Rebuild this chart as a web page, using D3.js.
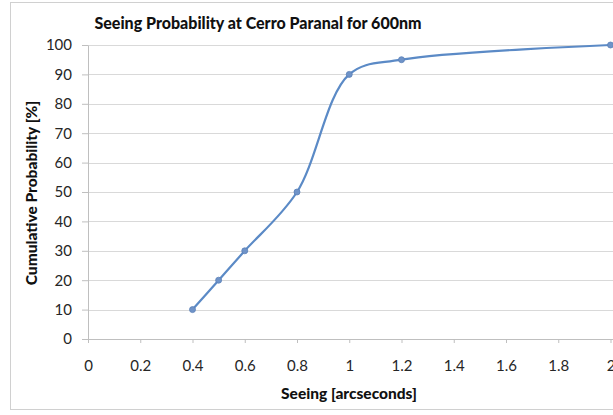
<!DOCTYPE html>
<html>
<head>
<meta charset="utf-8">
<script src="https://cdn.jsdelivr.net/npm/d3@7"></script>
<style>
  body { margin: 0; background: #fff; }
  text { font-family: Lato, "Open Sans", sans-serif; }
</style>
</head>
<body>
<div id="chart"></div>
<script>
var seeing = [0.4, 0.5, 0.6, 0.8, 1.0, 1.2, 2.0];
var probability = [10, 20, 30, 50, 90, 95, 100];
var xTicks = [0, 0.2, 0.4, 0.6, 0.8, 1, 1.2, 1.4, 1.6, 1.8, 2];
var yTicks = [0, 10, 20, 30, 40, 50, 60, 70, 80, 90, 100];

var margin = {top: 45, right: 3, bottom: 76, left: 88},
    width = 613 - margin.left - margin.right,
    height = 415 - margin.top - margin.bottom;

var root = d3.select("#chart")
  .append("svg")
    .attr("width", 613)
    .attr("height", 415);

// outer chart frame
root.append("rect")
  .attr("x", 10.5).attr("y", 2.5)
  .attr("width", 640).attr("height", 407)
  .attr("fill", "none")
  .attr("stroke", "#d0d0d0");

var svg = root.append("g")
  .attr("transform", "translate(" + margin.left + "," + margin.top + ")");

var x = d3.scaleLinear()
  .domain([0, 2])
  .range([0, 522.5]);

var y = d3.scaleLinear()
  .domain([0, 100])
  .range([294, 0]);

// gridlines
svg.append("g")
  .selectAll("line")
  .data(yTicks.slice(1))
  .enter()
  .append("line")
    .attr("x1", 0)
    .attr("x2", width + 10)
    .attr("y1", function (d) { return Math.round(y(d)) + 0.5; })
    .attr("y2", function (d) { return Math.round(y(d)) + 0.5; })
    .attr("stroke", "#d9d9d9");

var xAxis = svg.append("g")
  .attr("transform", "translate(0," + y(0) + ")")
  .call(d3.axisBottom(x).tickValues(xTicks).tickSize(4).tickPadding(17)
    .tickFormat(function (d) { return d3.format("")(+d.toFixed(1)); }));
xAxis.select(".domain").attr("stroke", "#bfbfbf").attr("d", "M0.5,0.5H" + (width + 10));

var yAxis = svg.append("g")
  .call(d3.axisLeft(y).tickValues(yTicks).tickSize(6).tickPadding(10));
yAxis.select(".domain").attr("stroke", "#bfbfbf").attr("d", "M0.5,0.5V" + y(0));

svg.selectAll(".tick line").attr("stroke", "#bfbfbf");
svg.selectAll(".tick text")
  .attr("fill", "#262626")
  .style("font-size", "15px")
  .style("font-family", "Lato, sans-serif");

var points = seeing.map(function (d, i) { return [d, probability[i]]; });

var line = d3.line()
  .x(function (d) { return x(d[0]); })
  .y(function (d) { return y(d[1]); })
  .curve(d3.curveCatmullRom.alpha(0.5));

svg.append("path")
  .datum(points)
  .attr("fill", "none")
  .attr("stroke", "#5b8ac6")
  .attr("stroke-width", 2.2)
  .attr("d", line);

svg.append("g")
  .selectAll("circle")
  .data(points)
  .enter()
  .append("circle")
    .attr("cx", function (d) { return x(d[0]); })
    .attr("cy", function (d) { return y(d[1]); })
    .attr("r", 3)
    .attr("fill", "#6f93c8")
    .attr("stroke", "#5b80b8")
    .attr("stroke-width", 0.8);

// titles
root.append("text")
  .attr("x", 258).attr("y", 29)
  .attr("text-anchor", "middle")
  .style("font-size", "16px")
  .style("font-weight", "900")
  .attr("fill", "#111")
  .text("Seeing Probability at Cerro Paranal for 600nm");

root.append("text")
  .attr("x", 349).attr("y", 399)
  .attr("text-anchor", "middle")
  .style("font-size", "15.5px")
  .style("font-weight", "900")
  .attr("fill", "#111")
  .text("Seeing [arcseconds]");

root.append("text")
  .attr("transform", "translate(37," + 193 + ") rotate(-90)")
  .attr("text-anchor", "middle")
  .style("font-size", "15.5px")
  .style("font-weight", "900")
  .attr("fill", "#111")
  .text("Cumulative Probability [%]");
</script>
</body>
</html>
